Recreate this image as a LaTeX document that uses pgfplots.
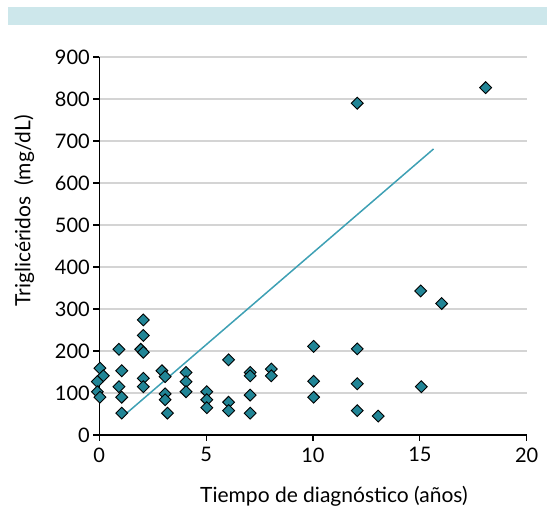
\documentclass[border=0pt]{standalone}
\usepackage{pgfplots}
\pgfplotsset{compat=1.18}
\usepackage{fontspec}
\setmainfont{Lato}
\definecolor{banner}{RGB}{205,231,235}
\definecolor{mk}{RGB}{33,133,150}
\definecolor{ln}{RGB}{62,160,180}
\definecolor{grd}{RGB}{212,212,212}
\begin{document}
\begin{tikzpicture}[x=1pt,y=1pt]
\useasboundingbox (0,0) rectangle (547,511);
\fill[banner] (8,486) rectangle (547,504);
\begin{axis}[
  at={(99.3pt,76pt)}, anchor=south west,
  scale only axis, width=427.4pt, height=378pt,
  xmin=0, xmax=20, ymin=0, ymax=900,
  xtick={0,5,...,20}, ytick={0,100,...,900},
  axis x line*=bottom, axis y line*=left,
  axis line style={black, line width=1.2pt, -},
  tick style={black, line width=1.2pt},
  tick align=outside, major tick length=6pt,
  ymajorgrids, grid style={grd, line width=1.2pt},
  tick label style={font=\fontsize{20}{24}\selectfont},
  xticklabel style={yshift=-3pt},
  /pgf/number format/assume math mode=true,
  xlabel={Tiempo de diagnóstico (años)},
  ylabel={Triglicéridos\ \ (mg/dL)},
  xlabel style={font=\fontsize{21}{25}\selectfont, at={(axis description cs:0.549,-0.178)}, anchor=base},
  ylabel style={font=\fontsize{21}{25}\selectfont, at={(axis description cs:-0.176,0.593)}, anchor=center},
  clip=false,
]
\addplot[only marks, mark=square*, mark size=4.2pt,
  mark options={rotate=45, fill=mk, draw=black, line width=0.9pt}]
  coordinates {
(0.03,159)(0.19,141)(-0.09,127)(-0.09,103)(0.03,90)
(0.92,204)(1.05,153)(0.92,115)(1.05,90)(1.05,52)
(2.06,274)(2.06,237)(1.94,204)(2.06,197)(2.06,135)(2.06,115)
(2.93,153)(3.08,139)(3.08,98)(3.08,84)(3.19,52)
(4.06,149)(4.06,127)(4.06,103)
(5.03,103)(5.03,84)(5.03,65)
(6.05,179)(6.05,78)(6.05,58)
(7.06,149)(7.06,141)(7.06,95)(7.06,52)
(8.05,157)(8.05,141)
(10.03,211)(10.03,128)(10.03,90)
(12.07,790)(12.07,205)(12.07,122)(12.07,58)
(13.05,45)
(15.07,115)(15.04,343)
(16.02,313)
(18.08,827)
  };
\addplot[ln, line width=1.5pt, no marks] coordinates {(1.28,52)(15.64,681)};
\end{axis}
\end{tikzpicture}
\end{document}
